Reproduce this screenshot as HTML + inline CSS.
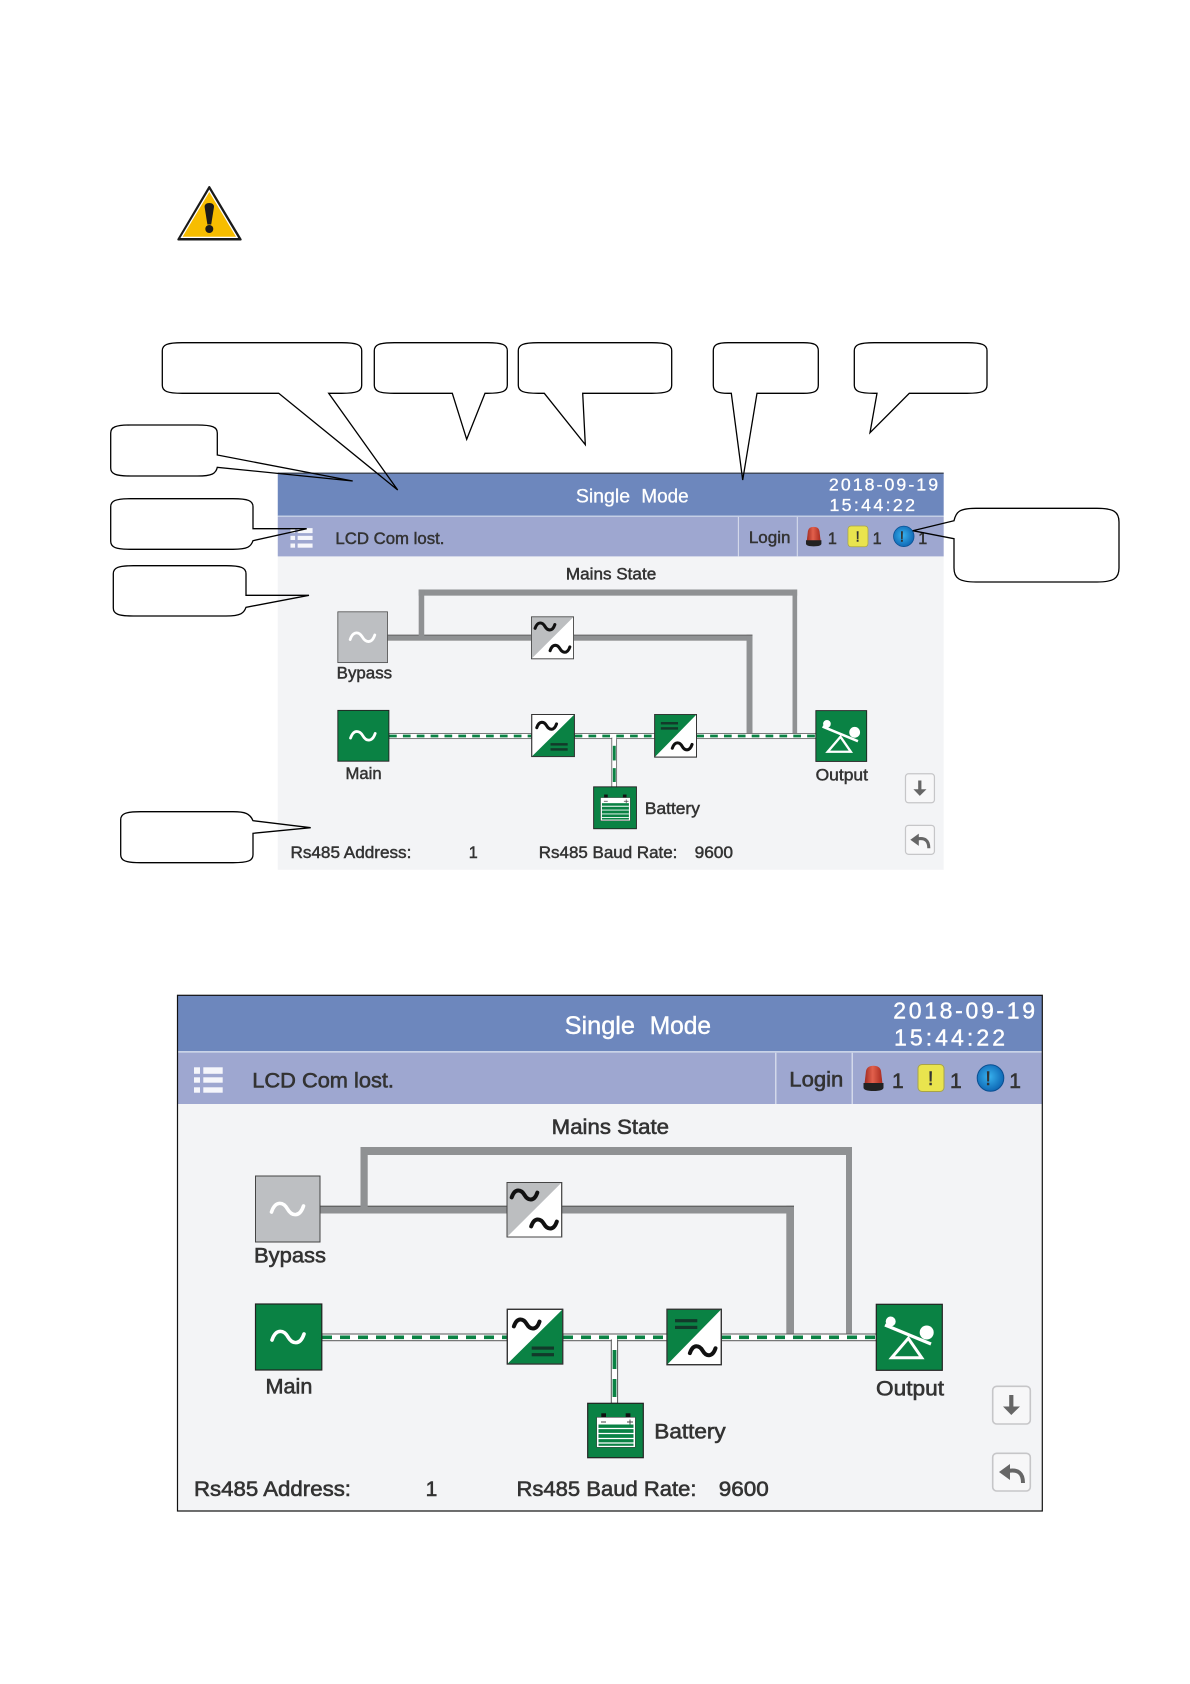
<!DOCTYPE html>
<html>
<head>
<meta charset="utf-8">
<style>
html,body{margin:0;padding:0;background:#fff;}
svg{display:block;position:absolute;left:0;top:0;}
text{font-family:"Liberation Sans",sans-serif;fill:#333;stroke:#333;stroke-width:.6;}
.wt{fill:#fff;stroke:#fff;stroke-width:.4;}
.co path{fill:none;stroke:#000;stroke-width:1.3;stroke-linejoin:miter;}
</style>
</head>
<body>
<svg xmlns="http://www.w3.org/2000/svg" width="1190" height="1684" viewBox="0 0 1190 1684">
<defs>
<path id="w" d="M-16,3 C-12,-9 -4,-7 0,0 C4,7 12,9 16,-3" fill="none" stroke-linecap="round"/>
<linearGradient id="sr" x1="0" x2="1" y1="0" y2="0"><stop offset="0" stop-color="#a02a20"/><stop offset=".45" stop-color="#e2604c"/><stop offset="1" stop-color="#a82a1e"/></linearGradient>
<radialGradient id="bl" cx=".45" cy=".45" r=".6"><stop offset="0" stop-color="#38b2ee"/><stop offset="1" stop-color="#0b62b0"/></radialGradient>
</defs>

<!-- warning -->
<path d="M209.3,187 L240.7,239.5 L178.3,239.5 Z" fill="#1a1a1a" stroke="#1a1a1a" stroke-width="2" stroke-linejoin="round"/>
<path d="M209.3,189.5 L238.2,238 L180.4,238 Z" fill="#fff"/>
<path d="M209.3,192 L236,236.8 L182.6,236.8 Z" fill="#f7bd00"/>
<path d="M204.6,207 Q204.6,203 209.3,203 Q214,203 214,207 L211.2,224.5 L207.4,224.5 Z" fill="#1a1a1a"/>
<circle cx="209.3" cy="229" r="4" fill="#1a1a1a"/>

<!-- upper panel -->
<g transform="translate(141.1,-293.7) scale(.77)">
<rect x="177.5" y="995.3" width="864.8" height="515.7" fill="#f3f4f6"/>
<rect x="177.5" y="995.3" width="864.8" height="56" fill="#6d87bd"/>
<rect x="177.5" y="1051" width="864.8" height="2" fill="#c9d3e8"/>
<rect x="177.5" y="1052.7" width="864.8" height="51.3" fill="#9ea7d0"/>
<rect x="177.5" y="995.3" width="864.8" height="1.2" fill="#222"/>
<rect x="775" y="1052.7" width="1.5" height="51.3" fill="#d3d8ea"/>
<rect x="851.5" y="1052.7" width="1.5" height="51.3" fill="#d3d8ea"/>
<text class="wt" y="1034" font-size="25"><tspan x="564.6" textLength="70.4" lengthAdjust="spacingAndGlyphs">Single</tspan><tspan x="649.7" textLength="61.3" lengthAdjust="spacingAndGlyphs">Mode</tspan></text>
<text class="wt" x="893.3" y="1018.6" font-size="23" textLength="141.7" lengthAdjust="spacing">2018-09-19</text>
<text class="wt" x="894" y="1045.3" font-size="23" textLength="111" lengthAdjust="spacing">15:44:22</text>
<g fill="#f5f6fb"><rect x="194" y="1067.3" width="6" height="6.5"/><rect x="203.3" y="1067.3" width="19.4" height="6.5"/><rect x="194" y="1077.3" width="6" height="5.4"/><rect x="203.3" y="1077.3" width="19.4" height="5.4"/><rect x="194" y="1087.3" width="6" height="5.4"/><rect x="203.3" y="1087.3" width="19.4" height="5.4"/></g>
<text x="252.3" y="1087.7" font-size="21.3" textLength="141.7" lengthAdjust="spacingAndGlyphs">LCD Com lost.</text>
<text x="789.3" y="1086.7" font-size="21.3" textLength="54" lengthAdjust="spacingAndGlyphs">Login</text>
<path d="M864.5,1084 L866,1071 Q867,1065.7 873.5,1065.7 Q880,1065.7 881,1071 L882.5,1084 Z" fill="url(#sr)"/><path d="M863.5,1083 H883.5 V1087.5 Q883.5,1091 873.5,1091 Q863.5,1091 863.5,1087.5 Z" fill="#222"/>
<text x="892" y="1088" font-size="21">1</text>
<rect x="918" y="1064.5" width="26" height="27" rx="4" fill="#e9e44e" stroke="#a8a348"/>
<text x="928" y="1085" font-size="19" stroke-width="0">!</text>
<text x="950" y="1088" font-size="21">1</text>
<circle cx="990.5" cy="1078" r="13.3" fill="url(#bl)" stroke="#0a4f92"/>
<text x="985.5" y="1085" font-size="19" stroke-width="0">!</text>
<text x="1009.3" y="1088" font-size="21">1</text>
<text x="551.7" y="1134" font-size="21" textLength="117.3" lengthAdjust="spacingAndGlyphs">Mains State</text>
<g fill="#8f9193">
<rect x="360.5" y="1147" width="491.5" height="8"/><rect x="360.5" y="1147" width="7.2" height="62"/><rect x="846" y="1147" width="6" height="190"/>
<rect x="320" y="1205.7" width="187" height="7.8"/><rect x="561.7" y="1205.7" width="232.3" height="7.8"/><rect x="786.3" y="1205.7" width="7.7" height="130"/>
</g>
<path d="M320,1206.2 H360.5 M367.7,1206.2 H507 M561.7,1206.2 H794" stroke="#555" stroke-width="1" fill="none"/>
<g>
<rect x="321.8" y="1334" width="185.2" height="6.7" fill="#fff" stroke="#555" stroke-width="1"/>
<rect x="563" y="1334" width="104" height="6.7" fill="#fff" stroke="#555" stroke-width="1"/>
<rect x="721" y="1334" width="155.3" height="6.7" fill="#fff" stroke="#555" stroke-width="1"/>
<path d="M322,1337.3 H507 M563,1337.3 H612 M617,1337.3 H667 M721,1337.3 H876" stroke="#0a8244" stroke-width="3.6" stroke-dasharray="10 8" fill="none"/>
<rect x="611.3" y="1340" width="6.3" height="63.3" fill="#fff" stroke="#555" stroke-width="1"/>
<rect x="612" y="1335" width="5" height="7" fill="#fff"/>
<rect x="612.6" y="1350" width="3.8" height="19" fill="#0a8244"/><rect x="612.6" y="1379" width="3.8" height="18" fill="#0a8244"/>
</g>
<rect x="255.5" y="1176" width="64.5" height="66" fill="#bdbfc2" stroke="#444"/>
<use href="#w" transform="translate(287.5,1209)" stroke="#fff" stroke-width="3.6"/>
<text x="254" y="1262.7" font-size="21" textLength="72" lengthAdjust="spacingAndGlyphs">Bypass</text>
<rect x="507" y="1182.5" width="54.7" height="54.5" fill="#fff" stroke="#444"/>
<path d="M507,1237 V1182.5 H561.7 Z" fill="#bcbec0"/>
<rect x="507" y="1182.5" width="54.7" height="54.5" fill="none" stroke="#444"/>
<use href="#w" transform="translate(524.5,1195) scale(.8)" stroke="#111" stroke-width="5"/>
<use href="#w" transform="translate(544,1224) scale(.8)" stroke="#111" stroke-width="5"/>
<rect x="255.5" y="1304" width="66.3" height="66" fill="#0a8244" stroke="#222" stroke-width="1.2"/>
<use href="#w" transform="translate(288,1337)" stroke="#fff" stroke-width="3.6"/>
<text x="265.5" y="1393.3" font-size="21" textLength="46.9" lengthAdjust="spacingAndGlyphs">Main</text>
<rect x="507.3" y="1309.3" width="55.4" height="54.7" fill="#fff" stroke="#333" stroke-width="1.2"/>
<path d="M562.7,1309.3 V1364 H507.3 Z" fill="#0a8244"/>
<rect x="507.3" y="1309.3" width="55.4" height="54.7" fill="none" stroke="#333" stroke-width="1.2"/>
<use href="#w" transform="translate(526.7,1324) scale(.8)" stroke="#111" stroke-width="5"/>
<rect x="531.7" y="1346.5" width="22.3" height="3.2" fill="#123a2a"/><rect x="531.7" y="1353.1" width="22.3" height="3.2" fill="#123a2a"/>
<rect x="667" y="1309.3" width="54.3" height="55.4" fill="#fff" stroke="#333" stroke-width="1.2"/>
<path d="M667,1364.7 V1309.3 H721.3 Z" fill="#0a8244"/>
<rect x="667" y="1309.3" width="54.3" height="55.4" fill="none" stroke="#333" stroke-width="1.2"/>
<rect x="675" y="1319.1" width="22.3" height="3.2" fill="#123a2a"/><rect x="675" y="1325.8" width="22.3" height="3.2" fill="#123a2a"/>
<use href="#w" transform="translate(702.7,1350.7) scale(.8)" stroke="#111" stroke-width="5"/>
<rect x="587.7" y="1403.3" width="55.6" height="54.4" fill="#0a8244" stroke="#222" stroke-width="1.2"/>
<rect x="601.3" y="1413.3" width="4.7" height="4" fill="#111"/><rect x="625.7" y="1413.3" width="4.7" height="4" fill="#111"/>
<rect x="596.7" y="1417.3" width="38.6" height="30" fill="#fff" stroke="#444" stroke-width=".6"/>
<path d="M601,1422 H606 M627,1422 H633 M630,1419.5 V1424.5" stroke="#444" stroke-width=".9"/>
<rect x="598.5" y="1424.5" width="35" height="21.3" fill="#0a8244"/>
<path d="M598.5,1428.5 H633.5 M598.5,1433.5 H633.5 M598.5,1438.5 H633.5 M598.5,1443 H633.5" stroke="#fff" stroke-width="1.2"/>
<text x="654.3" y="1438.3" font-size="21" textLength="71.4" lengthAdjust="spacingAndGlyphs">Battery</text>
<rect x="876.3" y="1304.3" width="66" height="66" fill="#0a8244" stroke="#222" stroke-width="1.2"/>
<circle cx="890.7" cy="1321.5" r="5" fill="#fff"/><circle cx="926.7" cy="1332.5" r="7" fill="#fff"/>
<path d="M885,1325 L931,1344" stroke="#fff" stroke-width="3.2"/>
<path d="M908.3,1338.3 L921.7,1357.7 H891.7 Z" fill="none" stroke="#fff" stroke-width="3"/>
<text x="876" y="1395.3" font-size="21" textLength="68" lengthAdjust="spacingAndGlyphs">Output</text>
<rect x="992.7" y="1386.3" width="37.6" height="37.7" rx="4" fill="#f7f7f8" stroke="#c6c6c8" stroke-width="1.6"/>
<path d="M1009.2,1395 H1013.4 V1406.5 H1020 L1011.3,1415 L1003,1406.5 H1009.2 Z" fill="#666"/>
<rect x="992.7" y="1453.3" width="37.6" height="37.7" rx="4" fill="#f7f7f8" stroke="#c6c6c8" stroke-width="1.6"/>
<path d="M999,1472 L1010,1464 V1480 Z" fill="#666"/><path d="M1008,1471 Q1023,1468 1023,1483" fill="none" stroke="#666" stroke-width="4"/>
<text x="194" y="1496" font-size="21" textLength="157" lengthAdjust="spacingAndGlyphs">Rs485 Address:</text>
<text x="425.6" y="1496" font-size="21">1</text>
<text x="516.5" y="1496" font-size="21" textLength="180" lengthAdjust="spacingAndGlyphs">Rs485 Baud Rate:</text>
<text x="718.8" y="1496" font-size="21" textLength="50" lengthAdjust="spacingAndGlyphs">9600</text>
</g>

<!-- lower panel -->
<g>
<rect x="177.5" y="995.3" width="864.8" height="515.7" fill="#f3f4f6"/>
<rect x="177.5" y="995.3" width="864.8" height="56" fill="#6d87bd"/>
<rect x="177.5" y="1051" width="864.8" height="2" fill="#c9d3e8"/>
<rect x="177.5" y="1052.7" width="864.8" height="51.3" fill="#9ea7d0"/>
<rect x="775" y="1052.7" width="1.5" height="51.3" fill="#d3d8ea"/>
<rect x="851.5" y="1052.7" width="1.5" height="51.3" fill="#d3d8ea"/>
<text class="wt" y="1034" font-size="25"><tspan x="564.6" textLength="70.4" lengthAdjust="spacingAndGlyphs">Single</tspan><tspan x="649.7" textLength="61.3" lengthAdjust="spacingAndGlyphs">Mode</tspan></text>
<text class="wt" x="893.3" y="1018.6" font-size="23" textLength="141.7" lengthAdjust="spacing">2018-09-19</text>
<text class="wt" x="894" y="1045.3" font-size="23" textLength="111" lengthAdjust="spacing">15:44:22</text>
<g fill="#f5f6fb"><rect x="194" y="1067.3" width="6" height="6.5"/><rect x="203.3" y="1067.3" width="19.4" height="6.5"/><rect x="194" y="1077.3" width="6" height="5.4"/><rect x="203.3" y="1077.3" width="19.4" height="5.4"/><rect x="194" y="1087.3" width="6" height="5.4"/><rect x="203.3" y="1087.3" width="19.4" height="5.4"/></g>
<text x="252.3" y="1087.7" font-size="21.3" textLength="141.7" lengthAdjust="spacingAndGlyphs">LCD Com lost.</text>
<text x="789.3" y="1086.7" font-size="21.3" textLength="54" lengthAdjust="spacingAndGlyphs">Login</text>
<path d="M864.5,1084 L866,1071 Q867,1065.7 873.5,1065.7 Q880,1065.7 881,1071 L882.5,1084 Z" fill="url(#sr)"/><path d="M863.5,1083 H883.5 V1087.5 Q883.5,1091 873.5,1091 Q863.5,1091 863.5,1087.5 Z" fill="#222"/>
<text x="892" y="1088" font-size="21">1</text>
<rect x="918" y="1064.5" width="26" height="27" rx="4" fill="#e9e44e" stroke="#a8a348"/>
<text x="928" y="1085" font-size="19" stroke-width="0">!</text>
<text x="950" y="1088" font-size="21">1</text>
<circle cx="990.5" cy="1078" r="13.3" fill="url(#bl)" stroke="#0a4f92"/>
<text x="985.5" y="1085" font-size="19" stroke-width="0">!</text>
<text x="1009.3" y="1088" font-size="21">1</text>
<text x="551.7" y="1134" font-size="21" textLength="117.3" lengthAdjust="spacingAndGlyphs">Mains State</text>
<g fill="#8f9193">
<rect x="360.5" y="1147" width="491.5" height="8"/><rect x="360.5" y="1147" width="7.2" height="62"/><rect x="846" y="1147" width="6" height="190"/>
<rect x="320" y="1205.7" width="187" height="7.8"/><rect x="561.7" y="1205.7" width="232.3" height="7.8"/><rect x="786.3" y="1205.7" width="7.7" height="130"/>
</g>
<path d="M320,1206.2 H360.5 M367.7,1206.2 H507 M561.7,1206.2 H794" stroke="#555" stroke-width="1" fill="none"/>
<g>
<rect x="321.8" y="1334" width="185.2" height="6.7" fill="#fff" stroke="#555" stroke-width="1"/>
<rect x="563" y="1334" width="104" height="6.7" fill="#fff" stroke="#555" stroke-width="1"/>
<rect x="721" y="1334" width="155.3" height="6.7" fill="#fff" stroke="#555" stroke-width="1"/>
<path d="M322,1337.3 H507 M563,1337.3 H612 M617,1337.3 H667 M721,1337.3 H876" stroke="#0a8244" stroke-width="3.6" stroke-dasharray="10 8" fill="none"/>
<rect x="611.3" y="1340" width="6.3" height="63.3" fill="#fff" stroke="#555" stroke-width="1"/>
<rect x="612" y="1335" width="5" height="7" fill="#fff"/>
<rect x="612.6" y="1350" width="3.8" height="19" fill="#0a8244"/><rect x="612.6" y="1379" width="3.8" height="18" fill="#0a8244"/>
</g>
<rect x="255.5" y="1176" width="64.5" height="66" fill="#bdbfc2" stroke="#444"/>
<use href="#w" transform="translate(287.5,1209)" stroke="#fff" stroke-width="3.6"/>
<text x="254" y="1262.7" font-size="21" textLength="72" lengthAdjust="spacingAndGlyphs">Bypass</text>
<rect x="507" y="1182.5" width="54.7" height="54.5" fill="#fff" stroke="#444"/>
<path d="M507,1237 V1182.5 H561.7 Z" fill="#bcbec0"/>
<rect x="507" y="1182.5" width="54.7" height="54.5" fill="none" stroke="#444"/>
<use href="#w" transform="translate(524.5,1195) scale(.8)" stroke="#111" stroke-width="5"/>
<use href="#w" transform="translate(544,1224) scale(.8)" stroke="#111" stroke-width="5"/>
<rect x="255.5" y="1304" width="66.3" height="66" fill="#0a8244" stroke="#222" stroke-width="1.2"/>
<use href="#w" transform="translate(288,1337)" stroke="#fff" stroke-width="3.6"/>
<text x="265.5" y="1393.3" font-size="21" textLength="46.9" lengthAdjust="spacingAndGlyphs">Main</text>
<rect x="507.3" y="1309.3" width="55.4" height="54.7" fill="#fff" stroke="#333" stroke-width="1.2"/>
<path d="M562.7,1309.3 V1364 H507.3 Z" fill="#0a8244"/>
<rect x="507.3" y="1309.3" width="55.4" height="54.7" fill="none" stroke="#333" stroke-width="1.2"/>
<use href="#w" transform="translate(526.7,1324) scale(.8)" stroke="#111" stroke-width="5"/>
<rect x="531.7" y="1346.5" width="22.3" height="3.2" fill="#123a2a"/><rect x="531.7" y="1353.1" width="22.3" height="3.2" fill="#123a2a"/>
<rect x="667" y="1309.3" width="54.3" height="55.4" fill="#fff" stroke="#333" stroke-width="1.2"/>
<path d="M667,1364.7 V1309.3 H721.3 Z" fill="#0a8244"/>
<rect x="667" y="1309.3" width="54.3" height="55.4" fill="none" stroke="#333" stroke-width="1.2"/>
<rect x="675" y="1319.1" width="22.3" height="3.2" fill="#123a2a"/><rect x="675" y="1325.8" width="22.3" height="3.2" fill="#123a2a"/>
<use href="#w" transform="translate(702.7,1350.7) scale(.8)" stroke="#111" stroke-width="5"/>
<rect x="587.7" y="1403.3" width="55.6" height="54.4" fill="#0a8244" stroke="#222" stroke-width="1.2"/>
<rect x="601.3" y="1413.3" width="4.7" height="4" fill="#111"/><rect x="625.7" y="1413.3" width="4.7" height="4" fill="#111"/>
<rect x="596.7" y="1417.3" width="38.6" height="30" fill="#fff" stroke="#444" stroke-width=".6"/>
<path d="M601,1422 H606 M627,1422 H633 M630,1419.5 V1424.5" stroke="#444" stroke-width=".9"/>
<rect x="598.5" y="1424.5" width="35" height="21.3" fill="#0a8244"/>
<path d="M598.5,1428.5 H633.5 M598.5,1433.5 H633.5 M598.5,1438.5 H633.5 M598.5,1443 H633.5" stroke="#fff" stroke-width="1.2"/>
<text x="654.3" y="1438.3" font-size="21" textLength="71.4" lengthAdjust="spacingAndGlyphs">Battery</text>
<rect x="876.3" y="1304.3" width="66" height="66" fill="#0a8244" stroke="#222" stroke-width="1.2"/>
<circle cx="890.7" cy="1321.5" r="5" fill="#fff"/><circle cx="926.7" cy="1332.5" r="7" fill="#fff"/>
<path d="M885,1325 L931,1344" stroke="#fff" stroke-width="3.2"/>
<path d="M908.3,1338.3 L921.7,1357.7 H891.7 Z" fill="none" stroke="#fff" stroke-width="3"/>
<text x="876" y="1395.3" font-size="21" textLength="68" lengthAdjust="spacingAndGlyphs">Output</text>
<rect x="992.7" y="1386.3" width="37.6" height="37.7" rx="4" fill="#f7f7f8" stroke="#c6c6c8" stroke-width="1.6"/>
<path d="M1009.2,1395 H1013.4 V1406.5 H1020 L1011.3,1415 L1003,1406.5 H1009.2 Z" fill="#666"/>
<rect x="992.7" y="1453.3" width="37.6" height="37.7" rx="4" fill="#f7f7f8" stroke="#c6c6c8" stroke-width="1.6"/>
<path d="M999,1472 L1010,1464 V1480 Z" fill="#666"/><path d="M1008,1471 Q1023,1468 1023,1483" fill="none" stroke="#666" stroke-width="4"/>
<text x="194" y="1496" font-size="21" textLength="157" lengthAdjust="spacingAndGlyphs">Rs485 Address:</text>
<text x="425.6" y="1496" font-size="21">1</text>
<text x="516.5" y="1496" font-size="21" textLength="180" lengthAdjust="spacingAndGlyphs">Rs485 Baud Rate:</text>
<text x="718.8" y="1496" font-size="21" textLength="50" lengthAdjust="spacingAndGlyphs">9600</text>
<rect x="177.5" y="995.3" width="864.8" height="515.7" fill="none" stroke="#111" stroke-width="1.2"/>
</g>

<!-- callouts -->
<g class="co">
<path d="M182.3,342.7 H341.7 C356.7,342.7 361.7,344.7 361.7,350.7 V385.3 C361.7,391.3 356.7,393.3 341.7,393.3 H328.7 L397.7,490 L278.7,393.3 H182.3 C167.3,393.3 162.3,391.3 162.3,385.3 V350.7 C162.3,344.7 167.3,342.7 182.3,342.7 Z"/>
<path d="M394.3,342.7 H487.3 C502.3,342.7 507.3,344.7 507.3,350.7 V385.3 C507.3,391.3 502.3,393.3 487.3,393.3 H485 L466.7,439.3 L452.3,393.3 H394.3 C379.3,393.3 374.3,391.3 374.3,385.3 V350.7 C374.3,344.7 379.3,342.7 394.3,342.7 Z"/>
<path d="M538.3,342.7 H651.7 C666.7,342.7 671.7,344.7 671.7,350.7 V385.3 C671.7,391.3 666.7,393.3 651.7,393.3 H582.7 L585.3,444.7 L544.3,393.3 H538.3 C523.3,393.3 518.3,391.3 518.3,385.3 V350.7 C518.3,344.7 523.3,342.7 538.3,342.7 Z"/>
<path d="M728.3,342.7 H803.3 C814.3,342.7 818.3,344.7 818.3,350.7 V385.3 C818.3,391.3 814.3,393.3 803.3,393.3 H757 L742.7,480 L731.3,393.3 H728.3 C717.3,393.3 713.3,391.3 713.3,385.3 V350.7 C713.3,344.7 717.3,342.7 728.3,342.7 Z"/>
<path d="M874.3,342.7 H967 C982,342.7 987,344.7 987,350.7 V385.3 C987,391.3 982,393.3 967,393.3 H909.3 L870,432.7 L877,393.3 H874.3 C859.3,393.3 854.3,391.3 854.3,385.3 V350.7 C854.3,344.7 859.3,342.7 874.3,342.7 Z"/>
<path d="M130.7,425 H197.3 C212.3,425 217.3,427 217.3,433 V455 L352.7,481 L217.3,467.3 C216,473.5 212.3,476 197.3,476 H130.7 C115.7,476 110.7,474 110.7,468 V433 C110.7,427 115.7,425 130.7,425 Z"/>
<path d="M130.7,498.7 H233 C248,498.7 253,500.7 253,506.7 V528.7 H306.7 L253,540.7 C251,546.5 248,549.3 233,549.3 H130.7 C115.7,549.3 110.7,547.3 110.7,541.3 V506.7 C110.7,500.7 115.7,498.7 130.7,498.7 Z"/>
<path d="M133.3,565.7 H226 C241,565.7 246,567.7 246,573.7 V595.3 H309 L246,607.3 C244,613 241,616 226,616 H133.3 C118.3,616 113.3,614 113.3,608 V573.7 C113.3,567.7 118.3,565.7 133.3,565.7 Z"/>
<path d="M140.7,811.7 H233 C245,811.7 250,813.5 253,820.7 L310.7,827.7 L253,833.3 V854.7 C253,860.7 248,862.7 233,862.7 H140.7 C125.7,862.7 120.7,860.7 120.7,854.7 V819.7 C120.7,813.7 125.7,811.7 140.7,811.7 Z"/>
<path d="M976,508.3 H1097 C1114,508.3 1119,512 1119,522 V568 C1119,578 1114,582 1097,582 H976 C959,582 954,578 954,568 V538.7 L912.7,530.7 L954,520.7 C956,512 959,508.3 976,508.3 Z"/>
</g>
</svg>
</body>
</html>
